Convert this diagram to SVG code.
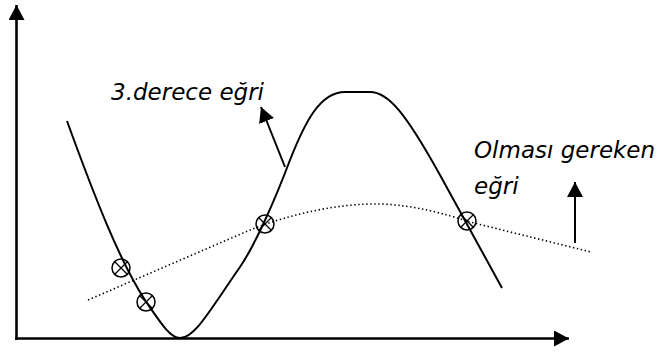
<svg xmlns="http://www.w3.org/2000/svg" width="659" height="354" viewBox="0 0 659 354">
<style>
.axis{stroke:#000;stroke-width:2.6;fill:none}
.curve{stroke:#000;stroke-width:2;fill:none}
.dot{stroke:#000;stroke-width:1.6;fill:none;stroke-dasharray:1.4 2.6}
.ptr{stroke:#000;stroke-width:2;fill:none}
text{font-family:"DejaVu Sans","Noto Sans",sans-serif;font-style:oblique;font-size:23px;fill:#000}
</style>
<defs>
<marker id="ah" markerUnits="userSpaceOnUse" markerWidth="16" markerHeight="16" refX="15" refY="8" orient="auto">
<path d="M0,0 L15,8 L0,16 z" fill="#000"/>
</marker>
<g id="xmark" fill="none" stroke="#000"><circle r="9" stroke-width="1.5"/><path d="M-6,-6 L6,6 M6,-6 L-6,6" stroke-width="1.3"/></g>
</defs>
<g id="connectors">
<line id="y-axis" class="axis" x1="16.5" y1="340" x2="16.5" y2="5" marker-end="url(#ah)"/>
<line id="x-axis" class="axis" x1="15" y1="338.5" x2="569" y2="338.5" marker-end="url(#ah)"/>
<path id="cubic-curve" class="curve" d="M67,121 C95,198 120,262 145,300 C160,322 170,338 180,338 C195,338 210,310 240,267 C255,245 275,200 290,160 C305,122 320,92 345,92 L370,92 C388,92 405,112 440,175 L502,288"/>
<path id="ideal-curve" class="dot" d="M88,300 L250,230 C290,214 340,203 380,204 C415,205 445,214 470,222 L591,252"/>
<line id="ptr-cubic" class="ptr" x1="285" y1="167" x2="261" y2="107" marker-end="url(#ah)"/>
<line id="ptr-ideal" class="ptr" x1="575" y1="243" x2="575" y2="182" marker-end="url(#ah)"/>
</g>
<g id="points">
<use href="#xmark" x="121" y="268"/>
<use href="#xmark" x="146" y="302"/>
<use href="#xmark" x="265" y="224"/>
<use href="#xmark" x="467" y="221"/>
</g>
<g id="label-cubic"><text x="111" y="100">3.derece eğri</text></g>
<g id="label-ideal"><text x="474" y="158">Olması gereken</text><text x="474" y="194">eğri</text></g>
</svg>
